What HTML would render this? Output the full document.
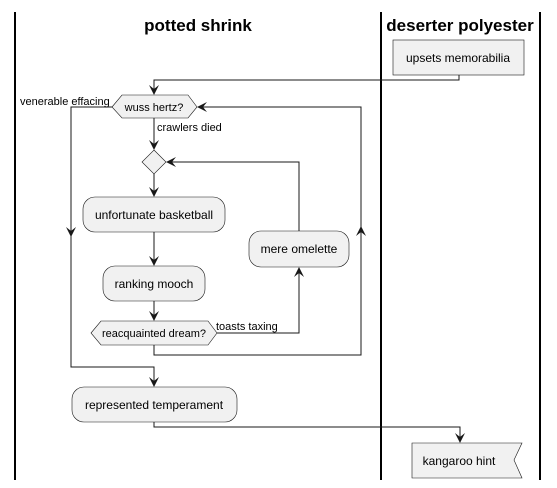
<!DOCTYPE html>
<html><head><style>html,body{margin:0;padding:0;background:#fff}svg{display:block}</style></head><body>
<svg width="557" height="488" viewBox="0 0 557 488" xmlns="http://www.w3.org/2000/svg" font-family="Liberation Sans, sans-serif" font-size="11">
<defs><marker id="a" viewBox="0 0 10 10" refX="9" refY="5" markerWidth="10" markerHeight="10" orient="auto" markerUnits="userSpaceOnUse"><path d="M0,0 L10,5 L0,10 L4,5 Z" fill="#181818"/></marker></defs>
<g stroke="#000" stroke-width="2"><line x1="15" y1="12" x2="15" y2="480"/><line x1="381" y1="12" x2="381" y2="480"/><line x1="540" y1="12" x2="540" y2="480"/></g>
<text x="198" y="31" font-size="17" font-weight="bold" text-anchor="middle">potted shrink</text>
<text x="460" y="31" font-size="17" font-weight="bold" text-anchor="middle">deserter polyester</text>
<g fill="#F1F1F1" stroke="#181818" stroke-width="0.6">
<rect x="393" y="40" width="131" height="35"/>
<polygon points="112,107 122,95 188,95 197,107 188,118 122,118"/>
<polygon points="154,150 166,162 154,174 142,162"/>
<rect x="83" y="197" width="142" height="35" rx="12"/>
<rect x="103" y="266" width="102" height="35" rx="12"/>
<polygon points="91,333 101,321 208,321 217,333 208,345 101,345"/>
<rect x="249" y="231" width="100" height="36" rx="12"/>
<rect x="72" y="387" width="165" height="35" rx="12"/>
<polygon points="412,443 522,443 514,460 522,478 412,478"/>
</g>
<g fill="none" stroke="#181818" stroke-width="1">
<polyline points="459,75 459,80 154,80 154,94" marker-end="url(#a)"/>
<polyline points="112,107 71,107 71,367 154,367 154,386" marker-end="url(#a)"/>
<line x1="71" y1="200" x2="71" y2="236" marker-end="url(#a)"/>
<line x1="154" y1="118" x2="154" y2="149" marker-end="url(#a)"/>
<line x1="154" y1="174" x2="154" y2="196" marker-end="url(#a)"/>
<line x1="154" y1="232" x2="154" y2="265" marker-end="url(#a)"/>
<line x1="154" y1="301" x2="154" y2="320" marker-end="url(#a)"/>
<polyline points="217,333 299,333 299,268" marker-end="url(#a)"/>
<polyline points="299,231 299,162 167,162" marker-end="url(#a)"/>
<polyline points="154,345 154,355 361,355 361,107 198,107" marker-end="url(#a)"/>
<line x1="361" y1="260" x2="361" y2="227" marker-end="url(#a)"/>
<polyline points="154,422 154,427 460,427 460,442" marker-end="url(#a)"/>
</g>
<g fill="#000">
<text x="458" y="62" font-size="12" text-anchor="middle">upsets memorabilia</text>
<text x="154" y="111" text-anchor="middle">wuss hertz?</text>
<text x="20" y="105">venerable effacing</text>
<text x="157" y="131">crawlers died</text>
<text x="154" y="219" font-size="12" text-anchor="middle">unfortunate basketball</text>
<text x="154" y="288" font-size="12" text-anchor="middle">ranking mooch</text>
<text x="154" y="337" text-anchor="middle">reacquainted dream?</text>
<text x="216" y="330">toasts taxing</text>
<text x="299" y="253" font-size="12" text-anchor="middle">mere omelette</text>
<text x="154" y="409" font-size="12" text-anchor="middle">represented temperament</text>
<text x="459" y="465" font-size="12" text-anchor="middle">kangaroo hint</text>
</g>
</svg>
</body></html>
